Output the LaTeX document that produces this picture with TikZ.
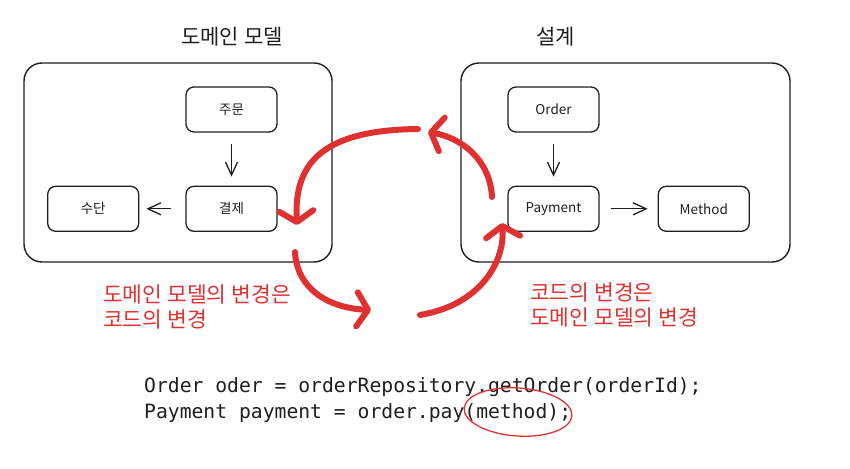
\documentclass[tikz,border=0pt]{standalone}
\usepackage{fontspec}
\setmainfont{Noto Sans CJK KR}
\setmonofont{DejaVu Sans Mono}
\usetikzlibrary{arrows.meta,positioning}
\definecolor{ink}{HTML}{1E1E1E}
\definecolor{penred}{HTML}{E03131}

\begin{document}
\begin{tikzpicture}[x=1pt,y=1pt,text=ink,
  frame/.style={draw=ink,line width=1.4pt,rounded corners=18pt,minimum width=#1,minimum height=199pt},
  box/.style={draw=ink,line width=1.3pt,rounded corners=8pt,minimum width=91pt,minimum height=45pt,font=\fontsize{13.5}{15}\selectfont},
  title/.style={font=\fontsize{21}{24}\selectfont},
  note/.style={text=penred,align=left,anchor=west,inner sep=0pt,font=\fontsize{21.5}{25}\selectfont},
  link/.style={-{Straight Barb[length=13pt,width=12pt]},line width=1.3pt,draw=ink},
  swirl/.style={-{Straight Barb[round,length=11pt,width=34pt]},line width=6pt,draw=penred,line cap=round}]
\useasboundingbox (0,0) rectangle (850,-468);

\node[title] (domaintitle) at (232,-36.5) {도메인 모델};
\node[frame=308pt] (domain) at (178,-162.5) {};
\node[box] (jumun) at (231.5,-109.5) {주문};
\node[box,below=53pt of jumun] (gyeolje) {결제};
\node[box,left=46pt of gyeolje] (sudan) {수단};
\draw[link,shorten <=11pt,shorten >=9pt] (jumun) -- (gyeolje);
\draw[link,shorten <=14pt,shorten >=7pt] (gyeolje) -- (sudan);

\node[title] (designtitle) at (555.5,-36.5) {설계};
\node[frame=329pt] (design) at (625.5,-162.5) {};
\node[box] (order) at (553.5,-109.5) {Order};
\node[box,below=53pt of order] (payment) {Payment};
\node[box,right=58pt of payment] (method) {Method};
\draw[link,shorten <=11pt,shorten >=9pt] (order) -- (payment);
\draw[link,shorten <=11pt,shorten >=10pt] (payment) -- (method);

\coordinate (topstart) at (418,-129);
\coordinate (leftend) at (297,-225);
\coordinate (leftstart) at (295,-252);
\coordinate (bottomend) at (371,-310);
\coordinate (bottomstart) at (420,-315);
\coordinate (rightend) at (502,-223);
\coordinate (rightstart) at (492,-197);
\coordinate (topend) at (428,-132);
\draw[swirl] (topstart) .. controls (320,-130) and (294,-165) .. (leftend);
\draw[swirl] (leftstart) .. controls (297,-290) and (330,-308) .. (bottomend);
\draw[swirl] (bottomstart) .. controls (480,-305) and (505,-262) .. (rightend);
\draw[swirl] (rightstart) .. controls (490,-160) and (462,-138) .. (topend);

\node[note] (modelnote) at (103,-306.5) {도메인 모델의 변경은\\코드의 변경};
\node[note] (codenote) at (530,-305) {코드의 변경은\\도메인 모델의 변경};

\node[anchor=west,inner sep=0pt,align=left,font=\ttfamily\fontsize{19.7}{26}\selectfont] (code) at (144,-400.5) {Order oder = orderRepository.getOrder(orderId);\\Payment payment = order.pay(method);};
\draw[penred,line width=1.3pt,rotate around={-4:(518,-412)}] (518,-412) ellipse [x radius=54, y radius=24];
\end{tikzpicture}
\end{document}
